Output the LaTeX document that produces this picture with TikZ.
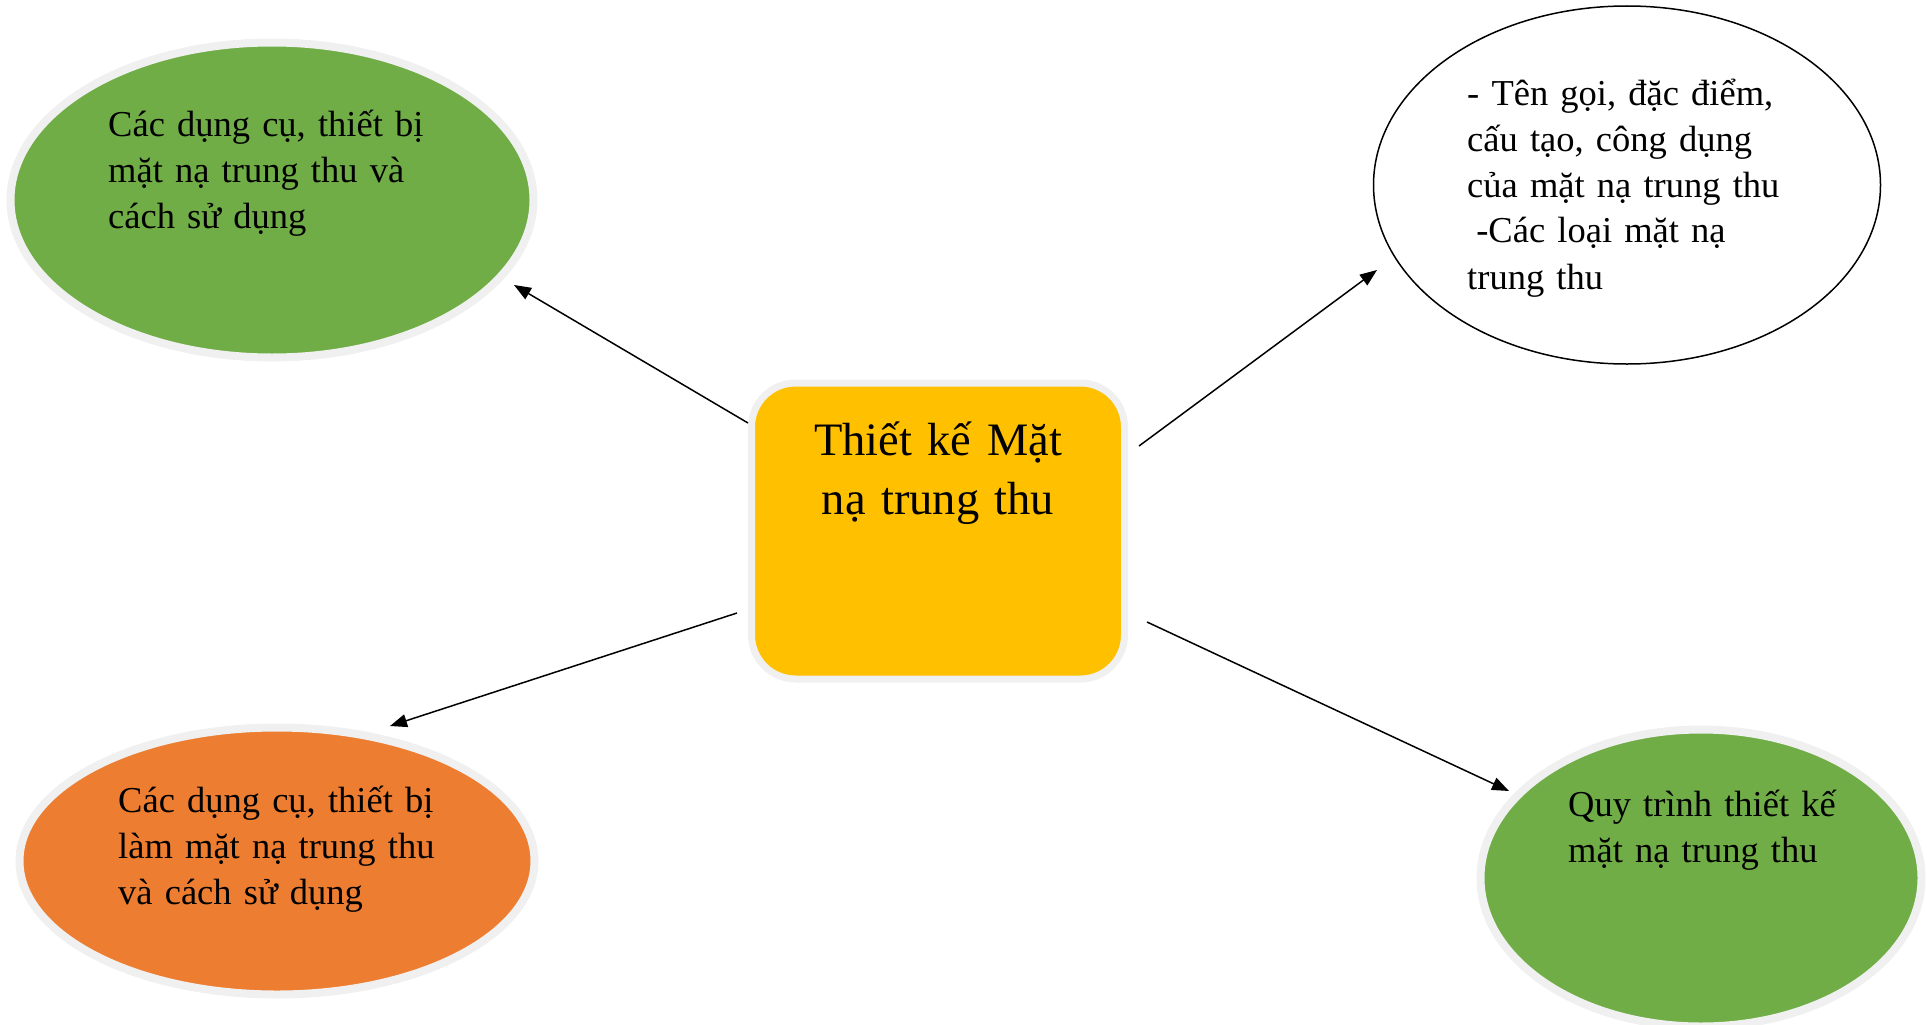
\documentclass[tikz,border=0pt]{standalone}
\usepackage{fontspec}
\setmainfont{Liberation Serif}
\usetikzlibrary{shapes.geometric,arrows.meta,calc}
\definecolor{mgreen}{HTML}{70AD47}
\definecolor{morange}{HTML}{ED7D31}
\definecolor{myellow}{HTML}{FFC000}
\definecolor{mgray}{HTML}{F0F0F0}
\begin{document}
\begin{tikzpicture}[x=1pt,y=-1pt,
  oval/.style={ellipse, inner sep=0pt, draw=mgray, line width=8pt},
  txt/.style={anchor=base west, inner sep=0pt, text width=520pt, align=left,
    font=\fontsize{36.5}{46}\selectfont},
  arr/.style={-{Triangle[length=17pt,width=13pt]}, line width=1.5pt, black}]
\useasboundingbox (0,0) rectangle (1927,1025);
% shapes
\node[oval, fill=mgreen, minimum width=523pt, minimum height=315pt] (e1) at (272,200) {};
\node[ellipse, inner sep=0pt, draw=black, line width=1.5pt, fill=white,
      minimum width=507pt, minimum height=358pt] (e2) at (1627,185) {};
\node[oval, fill=morange, minimum width=515pt, minimum height=267pt] (e3) at (277,861) {};
\node[oval, fill=mgreen, minimum width=441pt, minimum height=297pt] (e4) at (1701,878) {};
\node[rectangle, rounded corners=44pt, draw=mgray, line width=7pt, fill=myellow,
      minimum width=373pt, minimum height=296pt, inner sep=0pt] (c) at (938,531) {};
% texts
\node[txt] (t1) at (108,136) {Các dụng cụ, thiết bị\\mặt nạ trung thu và\\cách sử dụng};
\node[txt] (t2) at (1467,105) {- Tên gọi, đặc điểm,\\cấu tạo, công dụng\\của mặt nạ trung thu\\\hspace*{0.25em}-Các loại mặt nạ\\trung thu};
\node[txt] (t3) at (118,812) {Các dụng cụ, thiết bị\\làm mặt nạ trung thu\\và cách sử dụng};
\node[txt] (t4) at (1568,816) {Quy trình thiết kế\\mặt nạ trung thu};
\node[anchor=base, inner sep=0pt, text width=370pt, align=center,
      font=\fontsize{46.5}{59}\selectfont] (tc) at (938,455) {Thiết kế Mặt\\nạ trung thu};
% connectors
\draw[arr] ($(c.center)+(-190,-108)$) -- ($(e1.center)+(242,85)$);
\draw[arr] ($(c.center)+(201,-85)$) -- ($(e2.center)+(-250,85)$);
\draw[arr] ($(c.center)+(-201,82)$) -- ($(e3.center)+(113,-135)$);
\draw[arr] ($(c.center)+(209,91)$) -- ($(e4.center)+(-192,-87)$);
\end{tikzpicture}
\end{document}
